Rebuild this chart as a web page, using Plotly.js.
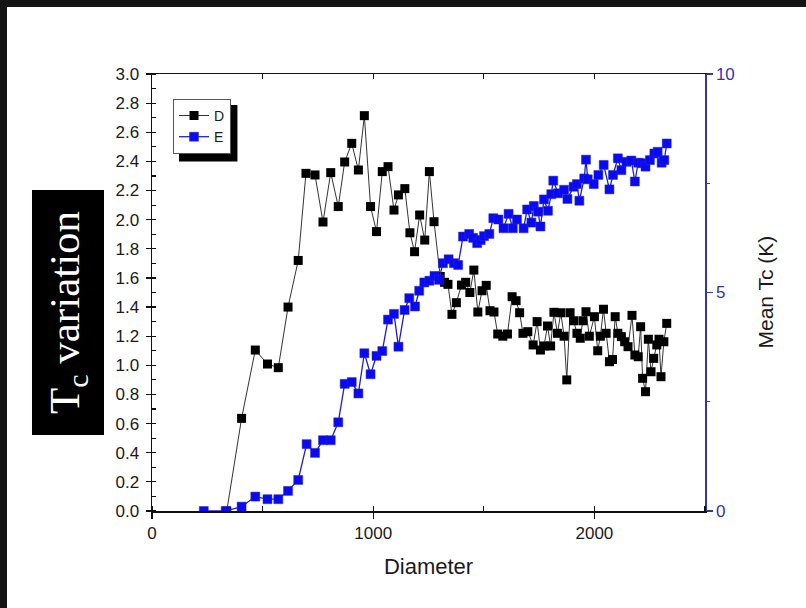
<!DOCTYPE html>
<html>
<head>
<meta charset="utf-8">
<script src="https://cdn.plot.ly/plotly-3.0.1.min.js"></script>
<style>
html,body{margin:0;padding:0;background:#141414;width:806px;height:608px;overflow:hidden;}
#chart{position:absolute;left:7px;top:7px;width:799px;height:601px;background:#fff;}
</style>
</head>
<body>
<div id="chart"></div>
<script>
// Series D (left axis, Tc variation)
const dDiameter = [338,405,467,522,571,615,661,696,737,773,808,842,871,903,933,960,988,1015,1041,1067,1094,1114,1143,1166,1187,1210,1233,1254,1275,1303,1322,1338,1356,1376,1399,1418,1437,1455,1473,1492,1511,1528,1546,1563,1586,1607,1628,1646,1662,1677,1699,1723,1741,1756,1772,1788,1802,1817,1833,1848,1863,1875,1890,1906,1921,1936,1948,1962,1977,2000,2015,2027,2041,2053,2068,2082,2094,2106,2122,2137,2152,2170,2183,2198,2209,2218,2231,2244,2256,2268,2282,2292,2301,2314,2327];
const dValues = [0,0.636,1.105,1.009,0.984,1.40,1.72,2.318,2.307,1.984,2.323,2.09,2.396,2.524,2.341,2.714,2.09,1.918,2.33,2.364,2.066,2.17,2.213,1.91,1.78,2.032,1.86,2.33,1.986,1.61,1.57,1.556,1.35,1.43,1.551,1.57,1.50,1.654,1.366,1.512,1.549,1.375,1.366,1.215,1.20,1.215,1.471,1.444,1.361,1.22,1.231,1.14,1.30,1.105,1.133,1.27,1.133,1.364,1.22,1.361,1.20,0.90,1.361,1.306,1.22,1.186,1.306,1.368,1.20,1.334,1.10,1.20,1.385,1.22,1.025,1.04,1.334,1.22,1.197,1.162,1.128,1.343,1.071,1.059,1.265,0.911,0.819,1.179,0.956,1.048,1.14,1.179,0.922,1.162,1.288];
// Series E (right axis, Mean Tc)
const eDiameter = [234,333,405,467,522,571,615,661,699,737,773,808,842,871,903,933,960,988,1015,1041,1067,1094,1114,1142,1163,1189,1208,1231,1254,1277,1297,1315,1341,1365,1384,1406,1434,1452,1470,1486,1501,1525,1543,1566,1589,1612,1631,1650,1680,1696,1715,1726,1745,1756,1772,1790,1805,1814,1836,1863,1878,1906,1921,1932,1954,1962,1970,1997,2018,2042,2068,2084,2106,2122,2145,2167,2183,2198,2216,2231,2251,2271,2286,2304,2316,2327];
const eValues = [0,0,0.10,0.33,0.27,0.27,0.46,0.71,1.53,1.33,1.62,1.62,2.03,2.91,2.95,2.69,3.61,3.13,3.55,3.66,4.38,4.51,3.76,4.60,4.87,4.68,5.04,5.23,5.27,5.38,5.29,5.67,5.76,5.67,5.63,6.28,6.34,6.25,6.13,6.20,6.29,6.34,6.70,6.67,6.47,6.80,6.47,6.67,6.47,6.90,6.60,6.98,6.85,6.51,7.13,6.87,7.25,7.56,7.27,7.35,7.14,7.42,7.48,7.10,7.61,8.04,7.59,7.48,7.69,7.92,7.36,7.69,8.07,7.80,7.99,8.02,7.54,7.97,7.96,7.88,8.03,8.18,8.22,7.97,8.03,8.41];
const leftTitle = 'T<sub>c</sub> variation';
const rightTitle = 'Mean Tc (K)';
const xTitle = 'Diameter';

const blueAxis = '#3535a5';
const font = 'Liberation Sans, Arial, sans-serif';

const traces = [
  {x: dDiameter, y: dValues, name: 'D', type: 'scatter', mode: 'lines+markers',
   line: {color: '#333', width: 1}, marker: {symbol: 'square', size: 9, color: '#000'}},
  {x: eDiameter, y: eValues, name: 'E', type: 'scatter', mode: 'lines+markers', yaxis: 'y2',
   line: {color: '#2020c0', width: 1.3}, marker: {symbol: 'square', size: 9, color: '#0a0aee', line:{color:'#2a2ad0', width:0.5}}},
  {x: [null], y: [null], xaxis: 'x2', showlegend: false, hoverinfo: 'skip', type: 'scatter', mode: 'markers'}
];

const layout = {
  width: 799, height: 601,
  margin: {l: 145, r: 101, t: 67, b: 97},
  paper_bgcolor: '#fff', plot_bgcolor: '#fff',
  font: {family: font, color: '#1a1a1a', size: 17},
  showlegend: true,
  legend: {x: 0.038, y: 0.943, xanchor: 'left', yanchor: 'top', bgcolor: '#fff',
           bordercolor: '#555', borderwidth: 1, font: {size: 14, family: font},
           itemwidth: 30, tracegroupgap: 0},
  xaxis: {range: [0, 2500], dtick: 1000, tick0: 0, ticks: 'outside', ticklen: 6, tickwidth: 1.2,
          minor: {dtick: 500, ticks: 'inside', ticklen: 5, tickwidth: 1.2, tickcolor: '#111'},
          showline: true, linecolor: '#111', linewidth: 1.5, mirror: true,
          showgrid: false, zeroline: false, tickcolor: '#111',
          tickfont: {size: 17}, title: {text: xTitle, font: {size: 22}, standoff: 16}},
  xaxis2: {overlaying: 'x', side: 'top', range: [0, 2500], dtick: 500, ticks: 'inside', ticklen: 5,
           tickwidth: 1.2, tickcolor: '#111', showticklabels: false, showgrid: false, zeroline: false,
           showline: false},
  yaxis: {range: [0, 3], dtick: 0.2, tick0: 0, ticks: 'outside', ticklen: 5, tickwidth: 1.2,
          tickformat: '.1f', minor: {dtick: 0.1, ticks: 'inside', ticklen: 4, tickwidth: 1.2, tickcolor: '#111'},
          showline: true, linecolor: '#111', linewidth: 1.5, showgrid: false, zeroline: false,
          tickcolor: '#111', tickfont: {size: 17}, ticklabelstandoff: 3},
  yaxis2: {overlaying: 'y', side: 'right', range: [0, 10], dtick: 5, tick0: 0, ticks: 'outside',
           ticklen: 6, tickwidth: 1.2, tickcolor: blueAxis,
           minor: {dtick: 2.5, ticks: 'outside', ticklen: 3, tickwidth: 1.2, tickcolor: blueAxis},
           showline: true, linecolor: blueAxis, linewidth: 1.5, showgrid: false, zeroline: false,
           tickfont: {size: 17, color: blueAxis}},
  shapes: [
    {type: 'rect', xref: 'paper', yref: 'paper', x0: -0.217, x1: -0.0868, y0: 0.1739, y1: 0.7346,
     fillcolor: '#000', line: {width: 0}, layer: 'above'},
    {type: 'rect', xref: 'paper', yref: 'paper', x0: 0.0488, x1: 0.1545, y0: 0.800, y1: 0.929,
     fillcolor: '#000', line: {width: 0}, layer: 'above'}
  ],
  annotations: [
    {text: leftTitle, xref: 'paper', yref: 'paper', x: -0.152, y: 0.455, showarrow: false,
     xanchor: 'center', yanchor: 'middle',
     textangle: -90, font: {family: 'Liberation Serif, Times New Roman, serif', size: 43, color: '#fff'}},
    {text: rightTitle, xref: 'paper', yref: 'paper', x: 1.1085, y: 0.50, showarrow: false,
     xanchor: 'center', yanchor: 'middle',
     textangle: -90, font: {family: font, size: 21, color: '#1a1a1a'}}
  ]
};

Plotly.newPlot('chart', traces, layout, {displayModeBar: false, staticPlot: true});
</script>
</body>
</html>
